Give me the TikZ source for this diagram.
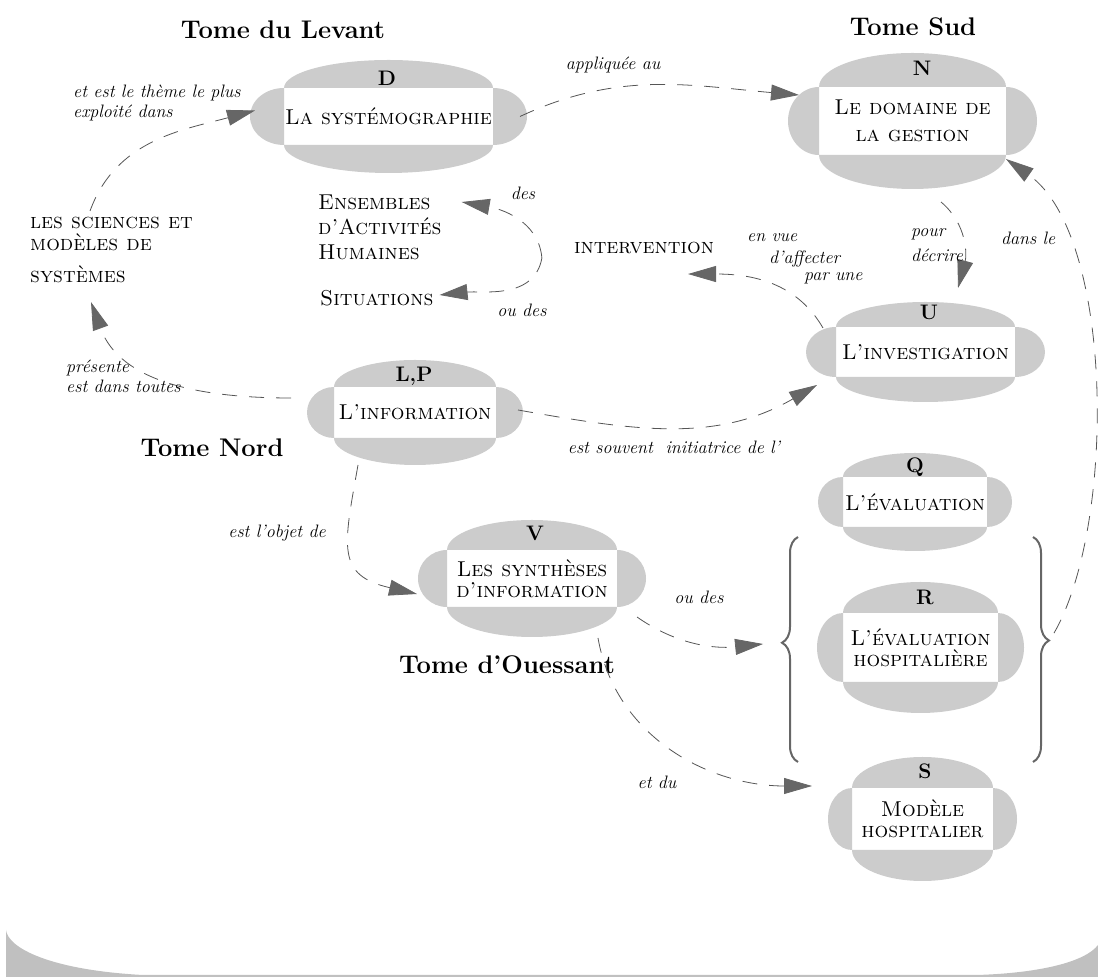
\documentclass[tikz,border=0pt]{standalone}
\usetikzlibrary{arrows.meta,decorations.pathreplacing,calc}

\definecolor{capgray}{HTML}{CCCCCC}
\definecolor{bandgray}{HTML}{C0C0C0}
\definecolor{linkgray}{HTML}{555555}
\definecolor{tipgray}{HTML}{666666}

\tikzset{
  box/.style={fill=white, inner sep=0pt, outer sep=0pt, align=center,
    font=\fontsize{21.5}{21}\selectfont\scshape},
  tag/.style={anchor=base, inner sep=0pt, font=\fontsize{21}{24}\selectfont\bfseries},
  tome/.style={inner sep=0pt, font=\fontsize{25.5}{28}\selectfont\bfseries},
  plain/.style={inner sep=0pt, align=left, font=\fontsize{21.5}{22}\selectfont\scshape},
  says/.style={inner sep=0pt, align=left, font=\fontsize{18}{20}\selectfont\itshape},
  link/.style={draw=linkgray, line width=0.8pt, dash pattern=on 15pt off 12pt,
    -{Triangle[length=28pt,width=16pt,color=tipgray]}},
  curly/.style={draw=tipgray, line width=2pt, decorate,
    decoration={brace, amplitude=16pt}},
}

% grey caps round a white box
\newcommand\blobcaps[3]{%
  \fill[capgray] let \p1=(#1.south west), \p2=(#1.north east),
      \n1={(\x2-\x1)/2}, \n2={(\y2-\y1)/2} in
    (#1.north west) arc[start angle=180, end angle=0, x radius=\n1, y radius=#3pt] -- cycle
    (#1.south east) arc[start angle=0, end angle=-180, x radius=\n1, y radius=#3pt] -- cycle
    (#1.south west) arc[start angle=270, end angle=90, x radius=#2pt, y radius=\n2] -- cycle
    (#1.north east) arc[start angle=90, end angle=-90, x radius=#2pt, y radius=\n2] -- cycle;}

\begin{document}
\begin{tikzpicture}[x=1pt, y=1pt]
  \useasboundingbox (0,0) rectangle (1098,977);
  % bottom band
  \fill[bandgray] (6,0) -- (6,47) .. controls (8,29) and (50,7) .. (143,2) -- (977,2)
    .. controls (1040,4) and (1085,15) .. (1098,32) -- (1098,0) -- cycle;

  % tomes
  \node[tome] (levant) at (283,947) {Tome du Levant};
  \node[tome] (sud) at (913,950) {Tome Sud};
  \node[tome] (nord) at (212,529) {Tome Nord};
  \node[tome] (ouessant) at (507,312) {Tome d’Ouessant};

  % systemographie
  \node[box, minimum width=209pt, minimum height=57pt] (D) at (388.5,860.5) {La systémographie};
  \blobcaps{D}{34}{28}
  \node[tag] (Dtag) at (387,891) {D};
  % gestion
  \node[box, minimum width=187pt, minimum height=68pt] (N) at (912.5,856) {Le domaine de\\[6pt]la gestion};
  \blobcaps{N}{31}{34}
  \node[tag] (Ntag) at (922,901) {N};
  % investigation
  \node[box, minimum width=179pt, minimum height=50pt] (U) at (925.5,625) {L’investigation};
  \blobcaps{U}{30}{25}
  \node[tag] (Utag) at (929,657) {U};
  % information
  \node[box, minimum width=162pt, minimum height=51pt] (LP) at (415,564.5) {L’information};
  \blobcaps{LP}{27}{27}
  \node[tag] (LPtag) at (414,595) {L,P};
  % syntheses
  \node[box, minimum width=170pt, minimum height=57pt] (V) at (532,398.5) {Les synthèses\\d’information};
  \blobcaps{V}{29}{30}
  \node[tag] (Vtag) at (535,436) {V};
  % evaluation
  \node[box, minimum width=144pt, minimum height=50pt] (Q) at (915,475) {L’évaluation};
  \blobcaps{Q}{25}{24}
  \node[tag] (Qtag) at (915,504) {Q};
  \node[box, minimum width=155pt, minimum height=69pt] (R) at (920.5,329.5) {L’évaluation\\hospitalière};
  \blobcaps{R}{26}{31}
  \node[tag] (Rtag) at (925,372) {R};
  % modele
  \node[box, minimum width=141pt, minimum height=62pt] (S) at (922.5,158) {Modèle\\hospitalier};
  \blobcaps{S}{24}{31}
  \node[tag] (Stag) at (925,198) {S};

  % loose words
  \node[plain, anchor=north west] (sci) at (30,760) {les sciences et\\modèles de\\[10pt]systèmes};
  \node[plain, anchor=north west] (ens) at (318,782) {Ensembles\\[3pt]d’Activités\\[3pt]Humaines};
  \node[plain, anchor=west] (sit) at (320,679) {Situations};
  \node[plain] (int) at (644,729) {intervention};

  % braces
  \draw[curly, decoration={aspect=0.53}] (798,215) -- (798,440);
  \draw[curly, decoration={aspect=0.46}] (1033,440) -- (1033,215);
  \coordinate (lb) at (782,335);
  \coordinate (rb) at (1050,337);

  % links
  \draw[link] ([shift={(60,6)}]sci.north west) to[out=70, in=195] ([shift={(-29,6)}]D.west);
  \draw[link] ([shift={(27,0)}]D.east) to[out=25, in=175] ([shift={(-20,26)}]N.west);
  \draw[link] ([shift={(-43,14.5)}]LP.west) to[out=180, in=-70] ([shift={(61,-19)}]sci.south west);
  \draw[link] ([shift={(22,2.5)}]LP.east) to[out=-10, in=210] ([shift={(-19,-33)}]U.west);
  \draw[link] ([shift={(-57,-27)}]LP.south) to[out=-100, in=167, looseness=1.5] ([shift={(-30,-15.5)}]V.west);
  \draw[link, shorten >=19pt] ([shift={(20,-38.5)}]V.east) to[out=-35, in=186] (lb);
  \draw[link] ([shift={(66,-31)}]V.south) to[out=-80, in=180] ([shift={(-40,33)}]S.west);
  \draw[link, shorten <=8pt] (rb) to[out=60, in=-35, looseness=0.7] ([shift={(0,-4)}]N.south east);
  \draw[link] ([shift={(28.5,-47)}]N.south) to[out=-40, in=75] ([shift={(32.5,39)}]U.north);
  \draw[link] ([shift={(-13,-1)}]U.north west) to[out=120, in=0] ([shift={(44,-20)}]int.south);
  \draw[link] ([shift={(-32,-10)}]int.west) to[out=95, in=-10] ([shift={(20,-7)}]ens.north east);
  \draw[link] ([shift={(-32,-10)}]int.west) to[out=-100, in=6] ([shift={(6,3)}]sit.east);

  % link words
  \node[says, anchor=north west] (themeplus) at (73,892) {et est le thème le plus\\exploité dans};
  \node[says] (appliquee) at (613,912) {appliquée au};
  \node[says] (desA) at (523,784) {des};
  \node[says] (oudesA) at (522,667) {ou des};
  \node[says, anchor=north west] (presente) at (66,617) {présente\\est dans toutes};
  \node[says] (initiatrice) at (674,530) {est souvent\ \ initiatrice de l’};
  \node[says, anchor=west] (envue) at (747,739) {en vue};
  \node[says, anchor=west] (affecter) at (769,718) {d’affecter};
  \node[says, anchor=west] (parune) at (804,699) {par une};
  \node[says, anchor=north west] (pour) at (911,749) {pour\\[5pt]décrire};
  \node[says, anchor=west] (dansle) at (1001,739) {dans le};
  \node[says] (objet) at (277,444) {est l’objet de};
  \node[says] (oudesB) at (699,380) {ou des};
  \node[says] (etdu) at (657,195) {et du};
\end{tikzpicture}
\end{document}
